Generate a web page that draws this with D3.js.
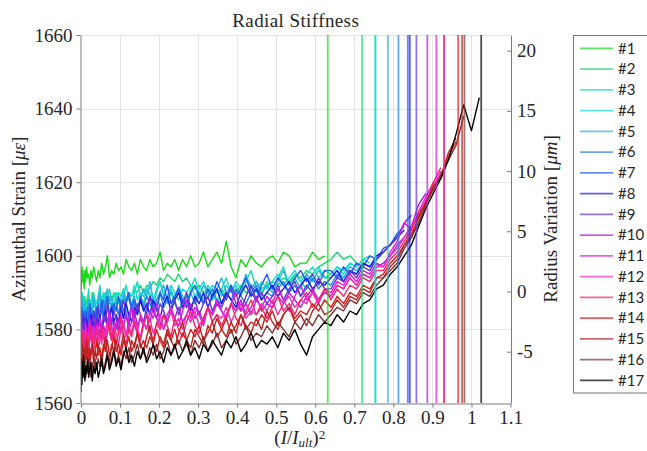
<!DOCTYPE html>
<html>
<head>
<meta charset="utf-8">
<script src="https://cdn.jsdelivr.net/npm/d3@7"></script>
<style>
  html, body { margin: 0; padding: 0; background: #ffffff; }
  svg { display: block; }
  .serif { font-family: "Liberation Serif", "DejaVu Serif", serif; }
</style>
</head>
<body>
<svg id="chart" width="647" height="451"></svg>
<script>
// Load ratio I/Iult is sampled in steps of 0.01; the x axis shows (I/Iult)^2.
const loadStep = 0.01;

const specimens = ["#1", "#2", "#3", "#4", "#5", "#6", "#7", "#8", "#9",
  "#10", "#11", "#12", "#13", "#14", "#15", "#16", "#17"];

const specimenColors = ["#19d919", "#19d973", "#19d9b3", "#19d9d9", "#26b3e0", "#2680e6",
  "#2659f0", "#1a1ae6", "#6633d9", "#b31ad9", "#e01ad9", "#f02eb3", "#f0266b",
  "#e01a1a", "#b32626", "#7f3333", "#000000"];

// (I/Iult)^2 at which each specimen failed
const failureLoad = [0.632, 0.720, 0.754, 0.754, 0.786, 0.813, 0.837, 0.842, 0.859,
  0.887, 0.910, 0.930, 0.930, 0.966, 0.976, 0.982, 1.025];

// Azimuthal strain readings [µε], one per load step
const strain01 = [
  1589, 1596, 1591, 1595, 1592, 1597, 1593, 1596, 1594, 1591,
  1596, 1593, 1597, 1594, 1595, 1592, 1596, 1594, 1597, 1595,
  1593, 1596, 1594, 1598, 1595, 1597, 1600, 1594, 1596, 1595,
  1598, 1596, 1597, 1595, 1599, 1597, 1596, 1598, 1595, 1599,
  1597, 1596, 1599, 1597, 1598, 1601, 1596, 1598, 1597, 1599,
  1596, 1599, 1597, 1600, 1597, 1598, 1601, 1597, 1599, 1601,
  1598, 1604, 1597, 1594, 1599, 1597, 1600, 1598, 1597, 1599,
  1600, 1598, 1601, 1600, 1597, 1598, 1598, 1601, 1599, 1600];
const strain02 = [
  1585, 1588, 1586, 1589, 1587, 1585, 1588, 1586, 1589, 1587,
  1586, 1588, 1587, 1589, 1586, 1588, 1587, 1590, 1586, 1588,
  1587, 1589, 1588, 1586, 1589, 1590, 1587, 1589, 1588, 1590,
  1588, 1590, 1589, 1591, 1588, 1590, 1589, 1591, 1590, 1592,
  1590, 1592, 1591, 1593, 1592, 1594, 1593, 1595, 1594, 1593,
  1595, 1593, 1594, 1592, 1591, 1592, 1590, 1591, 1589, 1590,
  1591, 1589, 1591, 1590, 1592, 1590, 1591, 1593, 1591, 1592,
  1593, 1592, 1594, 1593, 1595, 1594, 1596, 1595, 1597, 1598,
  1599, 1601, 1599, 1600, 1598];
const strain03 = [
  1582, 1588, 1585, 1589, 1583, 1587, 1590, 1585, 1587, 1584,
  1589, 1586, 1584, 1588, 1591, 1586, 1588, 1585, 1590, 1587,
  1585, 1589, 1592, 1587, 1585, 1589, 1587, 1591, 1588, 1586,
  1590, 1588, 1585, 1589, 1592, 1588, 1586, 1590, 1593, 1589,
  1587, 1591, 1589, 1586, 1590, 1593, 1589, 1587, 1591, 1588,
  1592, 1589, 1587, 1591, 1594, 1590, 1588, 1592, 1590, 1587,
  1591, 1594, 1590, 1592, 1589, 1593, 1596, 1591, 1589, 1593,
  1591, 1594, 1597, 1592, 1595, 1593, 1591, 1595, 1597, 1594,
  1595, 1597, 1595, 1598, 1597, 1599, 1600];
const strain04 = [
  1585, 1582, 1586, 1584, 1587, 1583, 1585, 1586, 1584, 1587,
  1585, 1587, 1584, 1586, 1588, 1585, 1587, 1589, 1586, 1588,
  1587, 1589, 1586, 1588, 1590, 1587, 1589, 1588, 1586, 1589,
  1590, 1587, 1589, 1591, 1588, 1590, 1589, 1592, 1588, 1590,
  1589, 1591, 1590, 1588, 1591, 1593, 1590, 1589, 1592, 1590,
  1588, 1591, 1590, 1592, 1589, 1591, 1593, 1590, 1592, 1591,
  1589, 1592, 1590, 1593, 1591, 1594, 1592, 1590, 1593, 1591,
  1593, 1595, 1592, 1594, 1596, 1593, 1595, 1597, 1594, 1596,
  1595, 1597, 1596, 1598, 1597, 1599, 1598];
const strain05 = [
  1580, 1586, 1583, 1587, 1581, 1585, 1588, 1582, 1586, 1584,
  1587, 1583, 1582, 1586, 1588, 1584, 1581, 1585, 1589, 1586,
  1583, 1587, 1590, 1586, 1584, 1588, 1591, 1587, 1589, 1585,
  1588, 1584, 1587, 1590, 1586, 1583, 1587, 1589, 1585, 1588,
  1591, 1589, 1593, 1588, 1586, 1590, 1592, 1588, 1590, 1587,
  1585, 1588, 1586, 1590, 1587, 1589, 1592, 1590, 1588, 1591,
  1594, 1590, 1592, 1589, 1591, 1595, 1591, 1593, 1590, 1592,
  1590, 1593, 1596, 1592, 1594, 1591, 1595, 1593, 1596, 1594,
  1594, 1596, 1594, 1597, 1596, 1598, 1597, 1600, 1601];
const strain06 = [
  1579, 1584, 1581, 1585, 1582, 1586, 1583, 1581, 1585, 1583,
  1582, 1585, 1583, 1586, 1582, 1584, 1586, 1583, 1585, 1582,
  1584, 1587, 1583, 1585, 1588, 1584, 1586, 1583, 1587, 1585,
  1586, 1584, 1588, 1585, 1587, 1589, 1585, 1587, 1584, 1588,
  1586, 1589, 1587, 1585, 1588, 1590, 1586, 1588, 1587, 1589,
  1591, 1587, 1589, 1586, 1588, 1590, 1587, 1589, 1591, 1588,
  1587, 1590, 1588, 1591, 1589, 1587, 1590, 1592, 1588, 1590,
  1589, 1591, 1593, 1590, 1592, 1589, 1591, 1594, 1591, 1593,
  1592, 1595, 1593, 1596, 1595, 1598, 1597, 1599, 1601, 1603, 1606];
const strain07 = [
  1584, 1578, 1582, 1586, 1580, 1583, 1579, 1585, 1581, 1584,
  1580, 1585, 1582, 1579, 1584, 1587, 1582, 1580, 1585, 1583,
  1586, 1581, 1584, 1588, 1583, 1586, 1589, 1584, 1582, 1587,
  1585, 1589, 1586, 1583, 1588, 1590, 1586, 1588, 1585, 1589,
  1586, 1584, 1589, 1587, 1585, 1590, 1588, 1592, 1587, 1589,
  1591, 1588, 1586, 1590, 1592, 1589, 1587, 1591, 1589, 1593,
  1590, 1588, 1592, 1589, 1591, 1594, 1590, 1588, 1592, 1595,
  1591, 1594, 1592, 1590, 1594, 1596, 1593, 1595, 1592, 1596,
  1596, 1594, 1597, 1595, 1598, 1597, 1600, 1599, 1602, 1603, 1606, 1608];
const strain08 = [
  1577, 1582, 1579, 1583, 1580, 1582, 1578, 1581, 1583, 1580,
  1582, 1579, 1583, 1581, 1578, 1582, 1584, 1580, 1582, 1579,
  1583, 1581, 1584, 1580, 1582, 1585, 1581, 1583, 1586, 1582,
  1584, 1582, 1586, 1583, 1587, 1584, 1582, 1586, 1584, 1588,
  1585, 1587, 1584, 1588, 1586, 1583, 1587, 1589, 1585, 1588,
  1590, 1586, 1588, 1585, 1589, 1587, 1590, 1586, 1589, 1591,
  1587, 1590, 1588, 1586, 1590, 1592, 1589, 1591, 1588, 1590,
  1592, 1589, 1591, 1593, 1590, 1592, 1594, 1591, 1593, 1592,
  1594, 1596, 1593, 1596, 1595, 1598, 1597, 1600, 1601, 1603, 1605, 1607];
const strain09 = [
  1580, 1576, 1583, 1578, 1581, 1584, 1577, 1580, 1582, 1579,
  1583, 1578, 1581, 1576, 1580, 1583, 1579, 1582, 1585, 1580,
  1582, 1586, 1581, 1579, 1584, 1582, 1587, 1583, 1581, 1585,
  1583, 1580, 1585, 1588, 1584, 1581, 1586, 1583, 1587, 1584,
  1582, 1586, 1589, 1585, 1583, 1587, 1585, 1582, 1586, 1588,
  1584, 1587, 1590, 1586, 1588, 1584, 1587, 1589, 1585, 1588,
  1586, 1589, 1591, 1587, 1585, 1589, 1592, 1588, 1590, 1587,
  1589, 1592, 1588, 1591, 1593, 1589, 1592, 1590, 1594, 1591,
  1591, 1594, 1593, 1596, 1594, 1597, 1596, 1599, 1601, 1603, 1605, 1609, 1611];
const strain10 = [
  1574, 1579, 1576, 1580, 1577, 1575, 1579, 1577, 1580, 1576,
  1578, 1581, 1577, 1579, 1576, 1580, 1578, 1581, 1577, 1579,
  1582, 1578, 1580, 1577, 1581, 1579, 1583, 1580, 1578, 1582,
  1580, 1583, 1579, 1581, 1584, 1580, 1582, 1585, 1581, 1583,
  1581, 1584, 1582, 1586, 1583, 1581, 1584, 1582, 1585, 1583,
  1586, 1582, 1584, 1587, 1583, 1585, 1582, 1586, 1584, 1587,
  1585, 1583, 1587, 1585, 1588, 1584, 1586, 1589, 1585, 1587,
  1586, 1589, 1587, 1590, 1588, 1586, 1589, 1591, 1588, 1590,
  1589, 1592, 1591, 1594, 1592, 1595, 1594, 1597, 1598, 1600, 1603, 1605, 1608, 1614, 1617];
const strain11 = [
  1573, 1579, 1576, 1581, 1577, 1574, 1580, 1578, 1575, 1579,
  1577, 1582, 1578, 1575, 1580, 1583, 1578, 1576, 1581, 1579,
  1576, 1580, 1583, 1579, 1581, 1577, 1582, 1585, 1580, 1578,
  1582, 1579, 1584, 1581, 1578, 1583, 1586, 1581, 1579, 1584,
  1582, 1580, 1585, 1583, 1587, 1582, 1580, 1584, 1586, 1583,
  1581, 1585, 1588, 1583, 1586, 1584, 1581, 1586, 1584, 1588,
  1585, 1583, 1587, 1590, 1585, 1587, 1584, 1588, 1586, 1589,
  1587, 1591, 1588, 1585, 1589, 1592, 1588, 1590, 1587, 1591,
  1590, 1593, 1592, 1595, 1593, 1596, 1595, 1598, 1597, 1601, 1604, 1609, 1607, 1612, 1616, 1620];
const strain12 = [
  1573, 1578, 1575, 1579, 1576, 1574, 1578, 1576, 1579, 1575,
  1577, 1580, 1576, 1578, 1575, 1579, 1577, 1580, 1576, 1578,
  1581, 1577, 1579, 1576, 1580, 1578, 1582, 1579, 1577, 1581,
  1579, 1576, 1580, 1582, 1578, 1581, 1579, 1583, 1580, 1578,
  1582, 1580, 1583, 1579, 1581, 1584, 1580, 1582, 1585, 1581,
  1583, 1580, 1584, 1582, 1585, 1581, 1583, 1586, 1582, 1584,
  1583, 1586, 1582, 1585, 1587, 1583, 1585, 1584, 1587, 1585,
  1588, 1584, 1587, 1589, 1586, 1588, 1587, 1590, 1588, 1591,
  1589, 1592, 1591, 1594, 1592, 1595, 1594, 1597, 1597, 1600, 1602, 1605, 1608, 1611, 1615, 1619, 1623];
const strain13 = [
  1581, 1574, 1578, 1572, 1577, 1579, 1573, 1576, 1580, 1575,
  1573, 1578, 1575, 1579, 1574, 1577, 1581, 1576, 1574, 1578,
  1580, 1575, 1577, 1581, 1578, 1575, 1579, 1582, 1577, 1580,
  1576, 1579, 1583, 1578, 1576, 1580, 1578, 1582, 1579, 1577,
  1581, 1584, 1579, 1577, 1582, 1580, 1584, 1581, 1578, 1583,
  1580, 1578, 1582, 1585, 1581, 1579, 1583, 1586, 1582, 1584,
  1581, 1584, 1587, 1583, 1581, 1585, 1588, 1584, 1586, 1583,
  1586, 1589, 1585, 1587, 1584, 1588, 1590, 1586, 1588, 1591,
  1588, 1591, 1589, 1592, 1591, 1594, 1593, 1596, 1596, 1599, 1601, 1604, 1607, 1612, 1614, 1620, 1624];
const strain14 = [
  1581, 1575, 1578, 1572, 1576, 1574, 1570, 1574, 1572, 1575,
  1571, 1574, 1572, 1575, 1573, 1570, 1574, 1576, 1572, 1574,
  1577, 1573, 1575, 1572, 1576, 1574, 1577, 1573, 1575, 1578,
  1574, 1576, 1573, 1577, 1575, 1578, 1574, 1576, 1579, 1575,
  1577, 1575, 1578, 1576, 1580, 1577, 1575, 1579, 1577, 1580,
  1576, 1579, 1577, 1580, 1578, 1581, 1577, 1579, 1582, 1578,
  1580, 1583, 1579, 1581, 1584, 1580, 1582, 1581, 1584, 1582,
  1585, 1581, 1584, 1586, 1583, 1585, 1584, 1587, 1585, 1588,
  1586, 1589, 1587, 1590, 1589, 1592, 1591, 1594, 1595, 1598, 1600, 1603, 1606, 1610, 1615, 1618, 1622, 1627, 1631];
const strain15 = [
  1579, 1572, 1575, 1569, 1574, 1571, 1576, 1570, 1573, 1575,
  1571, 1574, 1577, 1572, 1570, 1575, 1573, 1576, 1571, 1574,
  1572, 1576, 1574, 1570, 1575, 1578, 1573, 1571, 1576, 1574,
  1577, 1573, 1575, 1579, 1574, 1572, 1577, 1575, 1579, 1576,
  1574, 1578, 1581, 1576, 1574, 1578, 1576, 1580, 1577, 1575,
  1579, 1582, 1577, 1575, 1580, 1578, 1576, 1581, 1579, 1583,
  1580, 1578, 1582, 1579, 1584, 1581, 1579, 1583, 1580, 1585,
  1582, 1580, 1584, 1586, 1582, 1584, 1581, 1585, 1587, 1584,
  1585, 1588, 1586, 1589, 1588, 1591, 1590, 1594, 1594, 1597, 1599, 1603, 1605, 1611, 1614, 1619, 1621, 1628, 1632];
const strain16 = [
  1575, 1568, 1572, 1566, 1570, 1568, 1571, 1567, 1570, 1568,
  1571, 1567, 1569, 1572, 1568, 1570, 1567, 1571, 1569, 1572,
  1569, 1572, 1570, 1573, 1569, 1571, 1574, 1570, 1572, 1575,
  1571, 1573, 1570, 1574, 1572, 1575, 1571, 1573, 1576, 1572,
  1574, 1572, 1575, 1573, 1576, 1572, 1574, 1577, 1573, 1575,
  1577, 1574, 1576, 1573, 1577, 1575, 1578, 1574, 1576, 1579,
  1575, 1577, 1580, 1576, 1578, 1581, 1577, 1579, 1578, 1581,
  1579, 1582, 1580, 1578, 1582, 1580, 1583, 1581, 1584, 1582,
  1584, 1586, 1585, 1588, 1587, 1590, 1589, 1592, 1594, 1596, 1598, 1602, 1605, 1609, 1614, 1618, 1622, 1626, 1630, 1638];
const strain17 = [
  1563, 1570, 1566, 1572, 1568, 1565, 1571, 1567, 1573, 1569,
  1566, 1570, 1568, 1572, 1567, 1569, 1571, 1566, 1570, 1568,
  1571, 1567, 1569, 1572, 1568, 1570, 1573, 1569, 1571, 1574,
  1570, 1572, 1569, 1573, 1575, 1571, 1573, 1570, 1574, 1572,
  1575, 1571, 1573, 1576, 1572, 1574, 1571, 1575, 1573, 1576,
  1572, 1574, 1577, 1573, 1575, 1572, 1576, 1574, 1577, 1575,
  1573, 1577, 1575, 1578, 1574, 1576, 1579, 1575, 1577, 1576,
  1578, 1575, 1579, 1577, 1580, 1576, 1573, 1578, 1580, 1582,
  1581, 1584, 1582, 1585, 1584, 1587, 1588, 1591, 1592, 1595, 1597, 1600, 1603, 1608, 1613, 1617,
  1621, 1626, 1633, 1641, 1634, 1643];

const xTicks = [0, 0.1, 0.2, 0.3, 0.4, 0.5, 0.6, 0.7, 0.8, 0.9, 1, 1.1];
const strainTicks = [1560, 1580, 1600, 1620, 1640, 1660];
const radiusTicks = [-5, 0, 5, 10, 15, 20];

const strainSeries = [strain01, strain02, strain03, strain04, strain05, strain06, strain07,
  strain08, strain09, strain10, strain11, strain12, strain13, strain14, strain15, strain16, strain17];

// ---- layout ----
const plot = { left: 81, right: 510.5, top: 35, bottom: 403 };
const textColor = "#262626";
const axisColor = "#7a7a7a";
const fontSize = "19px";

const svg = d3.select("#chart");

const x = d3.scaleLinear().domain([0, 1.1]).range([plot.left, plot.right]);
const yStrain = d3.scaleLinear().domain([1560, 1660]).range([plot.bottom, plot.top]);
const yRadius = d3.scaleLinear().domain([-9.26, 21.30]).range([plot.bottom, plot.top]);

// grid
const grid = svg.append("g").attr("stroke", "#e3e3e3").attr("stroke-width", 1);
grid.selectAll(".gx").data(xTicks.filter(d => d > 0 && d < 1.1)).join("line")
  .attr("x1", d => Math.round(x(d)) + 0.5).attr("x2", d => Math.round(x(d)) + 0.5)
  .attr("y1", plot.top).attr("y2", plot.bottom);
grid.selectAll(".gy").data(strainTicks.filter(d => d > 1560)).join("line")
  .attr("y1", d => Math.round(yStrain(d)) + 0.5).attr("y2", d => Math.round(yStrain(d)) + 0.5)
  .attr("x1", plot.left).attr("x2", plot.right);

// strain curves
svg.append("clipPath").attr("id", "plotClip").append("rect")
  .attr("x", plot.left).attr("y", plot.top)
  .attr("width", plot.right - plot.left).attr("height", plot.bottom - plot.top);

const line = d3.line()
  .x((d, k) => x(Math.pow(k * loadStep, 2)))
  .y(d => yStrain(d));

const curves = svg.append("g").attr("clip-path", "url(#plotClip)");
curves.selectAll("path").data(strainSeries).join("path")
  .attr("d", d => line(d))
  .attr("fill", "none")
  .attr("stroke", (d, i) => specimenColors[i])
  .attr("stroke-width", 1.4)
  .attr("stroke-linejoin", "round");

// failure markers
svg.append("g").selectAll("line").data(failureLoad).join("line")
  .attr("x1", d => x(d)).attr("x2", d => x(d))
  .attr("y1", plot.top).attr("y2", plot.bottom)
  .attr("stroke", (d, i) => specimenColors[i])
  .attr("stroke-opacity", 0.7)
  .attr("stroke-width", 1.8);

// axes
function styleAxis(g) {
  g.attr("font-family", null).attr("font-size", null).attr("class", "serif");
  g.select(".domain").attr("stroke", axisColor);
  g.selectAll(".tick line").attr("stroke", axisColor);
  g.selectAll(".tick text").attr("fill", textColor).style("font-size", fontSize);
}

svg.append("g")
  .attr("transform", `translate(0,${plot.bottom + 0.5})`)
  .call(d3.axisBottom(x).tickValues(xTicks).tickSize(4).tickSizeOuter(0).tickPadding(3)
    .tickFormat(d => String(+d.toFixed(1))))
  .call(styleAxis);

svg.append("g")
  .attr("transform", `translate(${plot.left - 0.5},0)`)
  .call(d3.axisLeft(yStrain).tickValues(strainTicks).tickSize(4).tickSizeOuter(0).tickPadding(4)
    .tickFormat(d => String(d)))
  .call(styleAxis);

svg.append("g")
  .attr("transform", `translate(${plot.right + 0.5},0)`)
  .call(d3.axisRight(yRadius).tickValues(radiusTicks).tickSize(-4).tickSizeOuter(0).tickPadding(6)
    .tickFormat(d => String(d)))
  .call(styleAxis);

// title and axis labels
svg.append("text")
  .attr("class", "serif")
  .attr("x", (plot.left + plot.right) / 2).attr("y", 27)
  .attr("text-anchor", "middle")
  .style("font-size", fontSize).style("letter-spacing", "0.4px").attr("fill", textColor)
  .text("Radial Stiffness");

const xLabel = svg.append("text")
  .attr("class", "serif")
  .attr("x", (plot.left + plot.right) / 2 + 4).attr("y", 444)
  .attr("text-anchor", "middle")
  .style("font-size", fontSize).attr("fill", textColor);
xLabel.append("tspan").text("(");
xLabel.append("tspan").style("font-style", "italic").text("I");
xLabel.append("tspan").text("/");
xLabel.append("tspan").style("font-style", "italic").text("I");
xLabel.append("tspan").style("font-style", "italic").style("font-size", "13px").attr("dy", 2.5).text("ult");
xLabel.append("tspan").attr("dy", -2.5).text(")");
xLabel.append("tspan").style("font-size", "13px").attr("dy", -5.5).text("2");

const yLabel = svg.append("text")
  .attr("class", "serif")
  .attr("transform", `translate(25,${(plot.top + plot.bottom) / 2}) rotate(-90)`)
  .attr("text-anchor", "middle")
  .style("font-size", fontSize).attr("fill", textColor);
yLabel.append("tspan").text("Azimuthal Strain [");
yLabel.append("tspan").style("font-style", "italic").text("με");
yLabel.append("tspan").text("]");

const rLabel = svg.append("text")
  .attr("class", "serif")
  .attr("transform", `translate(557,${(plot.top + plot.bottom) / 2}) rotate(-90)`)
  .attr("text-anchor", "middle")
  .style("font-size", fontSize).attr("fill", textColor);
rLabel.append("tspan").text("Radius Variation [");
rLabel.append("tspan").style("font-style", "italic").text("μm");
rLabel.append("tspan").text("]");

// legend
const legend = svg.append("g");
legend.append("rect")
  .attr("x", 573.5).attr("y", 35.5).attr("width", 100).attr("height", 357.5)
  .attr("fill", "#ffffff").attr("stroke", "#777777").attr("stroke-width", 1);
const rowGap = 20.75, firstRow = 48.3;
const rows = legend.selectAll("g.row").data(specimens).join("g")
  .attr("class", "row")
  .attr("transform", (d, i) => `translate(0,${firstRow + i * rowGap})`);
rows.append("line")
  .attr("x1", 580).attr("x2", 613).attr("y1", 0).attr("y2", 0)
  .attr("stroke", (d, i) => specimenColors[i]).attr("stroke-opacity", 0.7)
  .attr("stroke-width", 1.8);
rows.append("text")
  .attr("x", 618).attr("y", 0).attr("dy", "0.36em")
  .style("font-family", "Lato, 'Open Sans', sans-serif").style("font-size", "15px")
  .attr("fill", textColor)
  .text(d => d);
</script>
</body>
</html>
